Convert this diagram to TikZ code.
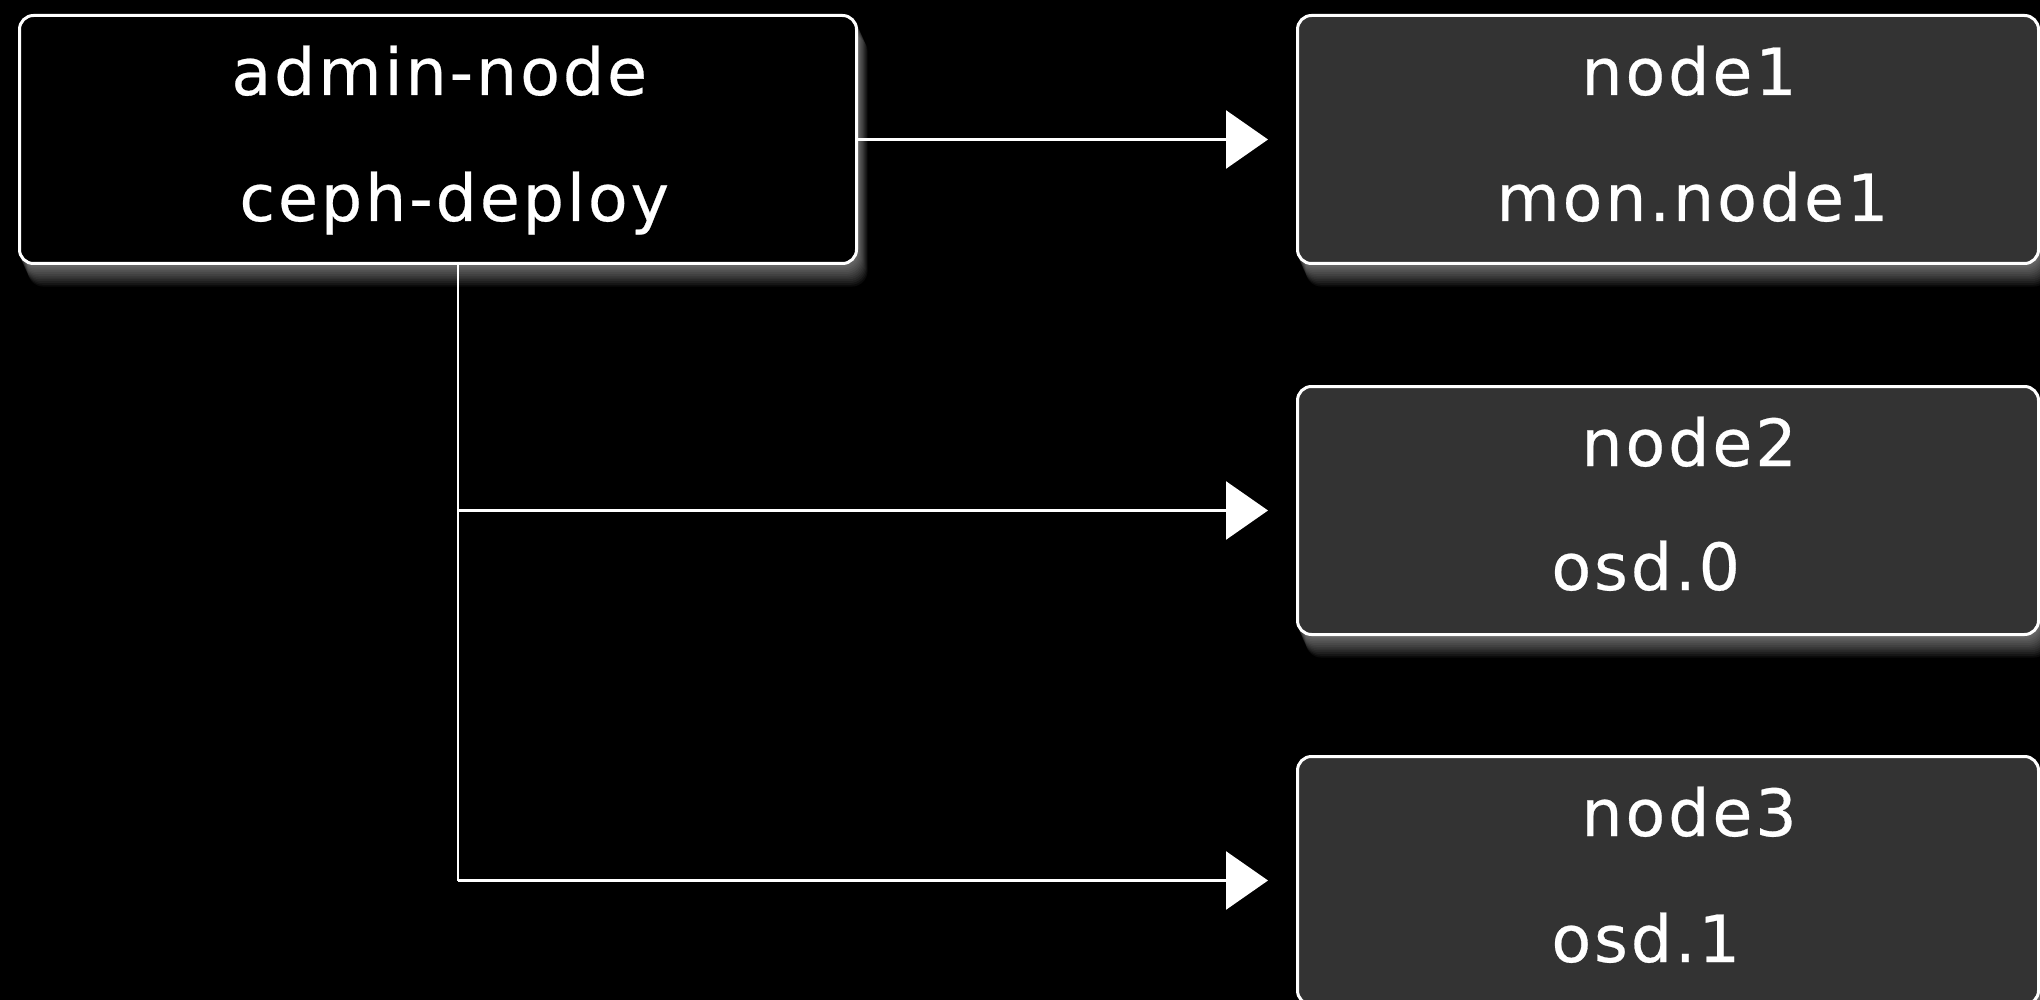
\documentclass[tikz,border=0pt]{standalone}
\usepackage{fontspec}
\setmainfont{DejaVu Sans}
\newfontfamily\lblfont[LetterSpace=4.5,FakeBold=0.4]{DejaVu Sans}
\usetikzlibrary{arrows.meta}
\definecolor{boxgray}{HTML}{333333}
\pgfdeclarelayer{bg}
\pgfdeclarelayer{shd}
\pgfsetlayers{bg,shd,main}
\tikzset{
  box/.style={draw=white, line width=1.5pt, rounded corners=7pt, inner sep=0pt, anchor=north west, minimum height=124pt},
  blackbox/.style={box, fill=black, minimum width=418.5pt},
  darkbox/.style={box, fill=boxgray, minimum width=370.5pt},
  lbl/.style={text=white, font=\lblfont\fontsize{32.5}{40}\selectfont, inner sep=0pt, anchor=base west},
  conn/.style={draw=white, line width=1.3pt},
  arr/.style={conn, -{Triangle[length=21pt,width=29pt]}},
}
\newcommand\myboxshadow[1]{%
  \begin{pgfonlayer}{shd}
    \foreach \k in {1,...,12}{
      \fill[white, opacity=0.045, rounded corners=8pt]
        ([shift={(0.4*\k pt,-0.9*\k pt)}]#1.north west) rectangle
        ([shift={(0.4*\k pt,-0.9*\k pt)}]#1.south east);
    }
  \end{pgfonlayer}}
\begin{document}
\begin{tikzpicture}[x=0.5pt,y=-0.5pt]
  \useasboundingbox (0,0) rectangle (2040,1000);
  \begin{pgfonlayer}{bg}
    \fill[black] (0,0) rectangle (2040,1000);
  \end{pgfonlayer}

  % boxes
  \node[blackbox] (admin) at (18,14) {};
  \node[darkbox] (node1) at (1296,14) {};
  \node[darkbox] (node2) at (1296,385) {};
  \node[darkbox] (node3) at (1296,755) {};
  \myboxshadow{admin}
  \myboxshadow{node1}
  \myboxshadow{node2}
  \myboxshadow{node3}

  % labels
  \node[lbl] (ta1) at (231,95) {admin-node};
  \node[lbl] (ta2) at (239,221) {ceph-deploy};
  \node[lbl] (t1a) at (1581,95) {node1};
  \node[lbl] (t1b) at (1496,221) {mon.node1};
  \node[lbl] (t2a) at (1581,466) {node2};
  \node[lbl] (t2b) at (1551,590) {osd.0};
  \node[lbl] (t3a) at (1581,836) {node3};
  \node[lbl] (t3b) at (1551,962) {osd.1};

  % connectors
  \coordinate (jx) at (458,0);
  \coordinate (b2) at (node2.west -| jx);
  \coordinate (b3) at (node3.west -| jx);
  \draw[arr] (admin.east) -- ([xshift=-14pt]node1.west);
  \draw[conn] (admin.south -| jx) -- (b3);
  \draw[arr] (b2) -- ([xshift=-14pt]node2.west);
  \draw[arr] (b3) -- ([xshift=-14pt]node3.west);
\end{tikzpicture}
\end{document}
